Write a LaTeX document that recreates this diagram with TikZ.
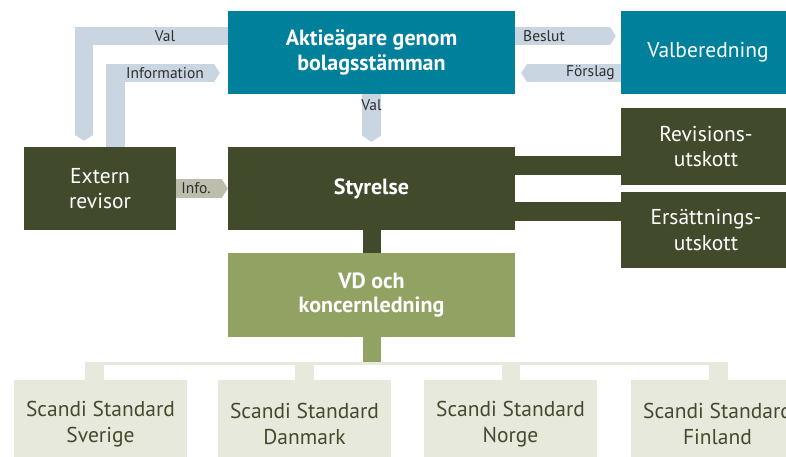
\documentclass[tikz,border=0pt]{standalone}
\usepackage{fontspec}
\setmainfont{PT Sans}
\usetikzlibrary{arrows.meta}
\definecolor{cTeal}{HTML}{00809A}
\definecolor{cDark}{HTML}{424A2C}
\definecolor{cGreen}{HTML}{91A263}
\definecolor{cBeige}{HTML}{E8E9DD}
\definecolor{cBand}{HTML}{C9D5E0}
\definecolor{cInfo}{HTML}{BDBDAE}
\definecolor{cLabel}{HTML}{2E2E2E}
\definecolor{cBoxText}{HTML}{434A2E}
\begin{document}
\begin{tikzpicture}[x=1pt,y=-1pt,
  box/.style={rectangle,inner sep=0pt,align=center,anchor=center},
  bigfont/.style={font=\fontsize{21.5}{25.5}\selectfont},
  boldfont/.style={font=\fontsize{22}{24.5}\selectfont\bfseries},
  tealbox/.style={box,fill=cTeal,text=white},
  darkbox/.style={box,fill=cDark,text=white},
  greenbox/.style={box,fill=cGreen,text=white},
  beigebox/.style={box,fill=cBeige,text=cBoxText},
  band/.style={draw=cBand,line width=18.5pt,line join=miter},
  tip/.style={-{Triangle[length=6pt,width=18.5pt]}},
  lbl/.style={inner sep=0pt,text=cLabel,font=\fontsize{15.5}{17}\selectfont},
  stem/.style={line width=18.5pt}
]
\useasboundingbox (0,0) rectangle (786,457);

% nodes
\node[tealbox,boldfont,minimum width=287pt,minimum height=83pt] (aktie) at (371.5,52.5) {Aktieägare genom\\bolagsstämman};
\node[tealbox,bigfont,minimum width=174pt,minimum height=83pt] (valb) at (708,52.5) {Valberedning};
\node[darkbox,bigfont,minimum width=152pt,minimum height=83pt] (rev) at (100,188.5) {Extern\\revisor};
\node[darkbox,boldfont,minimum width=287pt,minimum height=83pt] (sty) at (371.5,188.5) {Styrelse};
\node[darkbox,bigfont,minimum width=170pt,minimum height=76pt] (revu) at (706,146.5) {Revisions-\\utskott};
\node[darkbox,bigfont,minimum width=170pt,minimum height=76pt] (ers) at (706,230) {Ersättnings-\\utskott};
\node[greenbox,boldfont,minimum width=287pt,minimum height=84pt] (vd) at (371.5,295) {VD och\\koncernledning};
\node[beigebox,bigfont,minimum width=173pt,minimum height=88pt] (sve) at (100.5,424) {Scandi Standard\\Sverige};
\node[beigebox,bigfont,minimum width=173pt,minimum height=88pt] (dan) at (304.5,424) {Scandi Standard\\Danmark};
\node[beigebox,bigfont,minimum width=173pt,minimum height=88pt] (nor) at (510.5,424) {Scandi Standard\\Norge};
\node[beigebox,bigfont,minimum width=173pt,minimum height=88pt] (fin) at (717.5,424) {Scandi Standard\\Finland};

% committee bars
\draw[cDark,line width=19pt] (sty.east |- 0,165.5) -- (revu.west |- 0,165.5);
\draw[cDark,line width=19pt] (sty.east |- 0,211.5) -- (ers.west |- 0,211.5);
% Styrelse -> VD
\draw[cDark,stem] (sty.south -| 372,0) -- (vd.north -| 372,0);
% VD -> bus
\coordinate (busL) at (85,363.5);
\coordinate (busR) at (728,363.5);
\coordinate (busV) at (372,363.5);
\draw[cGreen,stem] (vd.south -| busV) -- ([yshift=-1.5pt]busV);
\draw[cBeige,line width=3.5pt] (busL) -- (busR);
\draw[cBeige,stem] ([yshift=-1.5pt]busL -| 94.5,0) -- (sve.north -| 94.5,0);
\draw[cBeige,stem] ([yshift=-1.5pt]busL -| dan.north) -- (dan.north);
\draw[cBeige,stem] ([yshift=-1.5pt]busL -| 511,0) -- (nor.north -| 511,0);
\draw[cBeige,stem] ([yshift=-1.5pt]busL -| 718.5,0) -- (fin.north -| 718.5,0);

% bands
\draw[band,tip,shorten >=6pt] (aktie.west |- 0,36) -| (rev.north -| 84,0);
\node[lbl] (lval1) at (165,36) {Val};
\draw[band,tip,shorten >=8pt] (rev.north -| 115.5,0) |- (aktie.west |- 0,73);
\node[lbl] (linfo) at (165,73) {Information};
\draw[band,tip,shorten >=5pt] (aktie.east |- 0,36) -- (valb.west |- 0,36);
\node[lbl,anchor=west] (lbes) at (523,36) {Beslut};
\draw[band,tip,shorten >=6pt] (valb.west |- 0,73) -- (aktie.east |- 0,73);
\node[lbl,anchor=east] (lfor) at (615,73) {Förslag};
\draw[band,tip,shorten >=5pt] (aktie.south) -- (sty.north);
\node[lbl] (lval2) at (371.5,105) {Val};
\draw[draw=cInfo,line width=18.5pt,tip] (rev.east |- 0,188.5) -- (sty.west |- 0,188.5);
\node[lbl] (linf2) at (196,188.5) {Info.};
\end{tikzpicture}
\end{document}
